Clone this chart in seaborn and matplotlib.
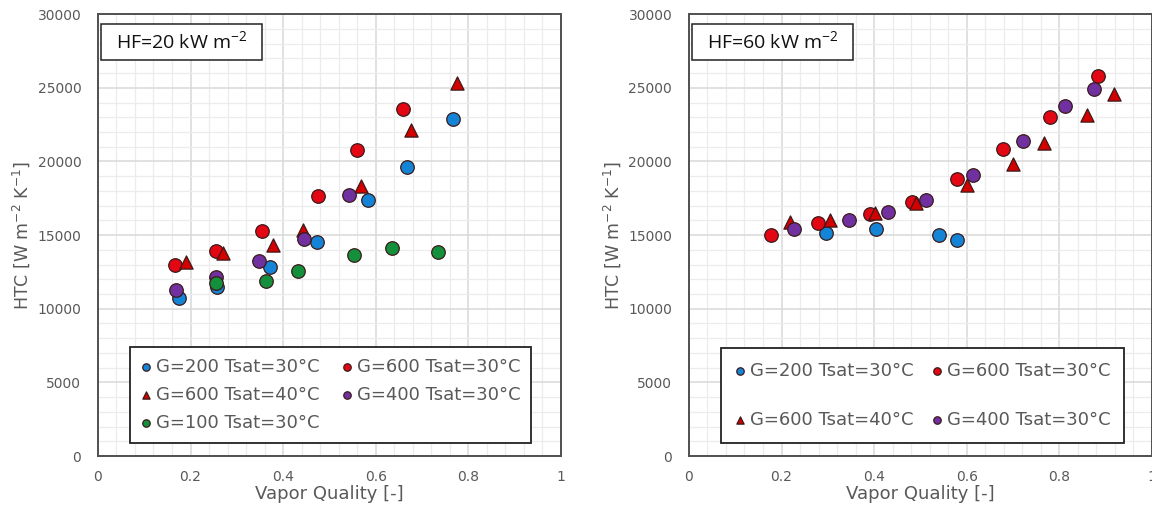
import numpy as np
import pandas as pd
import matplotlib
matplotlib.use("Agg")
import matplotlib.pyplot as plt
from matplotlib.patches import Rectangle
from matplotlib.ticker import MultipleLocator
import seaborn as sns

# ---------------- data ----------------
# HF = 20 kW m-2
hf20_g200_x = [0.176, 0.258, 0.371, 0.472, 0.584, 0.668, 0.766]
hf20_g200_y = [10750, 11500, 12800, 14550, 17400, 19650, 22850]
hf20_g600_30_x = [0.166, 0.256, 0.354, 0.476, 0.559, 0.659]
hf20_g600_30_y = [12950, 13900, 15250, 17650, 20800, 23550]
hf20_g600_40_x = [0.190, 0.271, 0.379, 0.442, 0.569, 0.675, 0.775]
hf20_g600_40_y = [13200, 13800, 14350, 15350, 18350, 22150, 25300]
hf20_g400_x = [0.168, 0.256, 0.348, 0.445, 0.543]
hf20_g400_y = [11250, 12150, 13250, 14700, 17700]
hf20_g100_x = [0.254, 0.362, 0.433, 0.554, 0.634, 0.735]
hf20_g100_y = [11750, 11900, 12550, 13650, 14150, 13850]

# HF = 60 kW m-2
hf60_g200_x = [0.297, 0.404, 0.539, 0.579]
hf60_g200_y = [15150, 15400, 15000, 14650]
hf60_g600_30_x = [0.177, 0.278, 0.392, 0.481, 0.580, 0.678, 0.780, 0.883]
hf60_g600_30_y = [15000, 15800, 16450, 17250, 18800, 20850, 23050, 25800]
hf60_g600_40_x = [0.219, 0.305, 0.402, 0.490, 0.600, 0.699, 0.767, 0.860, 0.919]
hf60_g600_40_y = [15900, 16000, 16500, 17200, 18400, 19850, 21250, 23150, 24550]
hf60_g400_x = [0.227, 0.346, 0.429, 0.512, 0.613, 0.721, 0.813, 0.875]
hf60_g400_y = [15400, 16050, 16550, 17350, 19100, 21400, 23750, 24900]

labels = {
    "g200": "G=200 Tsat=30°C",
    "g600_30": "G=600 Tsat=30°C",
    "g600_40": "G=600 Tsat=40°C",
    "g400": "G=400 Tsat=30°C",
    "g100": "G=100 Tsat=30°C",
}
panel_titles = [r"HF=20 kW m$^{\mathregular{-2}}$", r"HF=60 kW m$^{\mathregular{-2}}$"]
x_ticks = [0, 0.2, 0.4, 0.6, 0.8, 1]
x_tick_labels = ["0", "0.2", "0.4", "0.6", "0.8", "1"]
y_ticks = [0, 5000, 10000, 15000, 20000, 25000, 30000]

# ---------------- styles ----------------
colors = {"g200": "#1384d6", "g600_30": "#e30613", "g600_40": "#d40000",
          "g400": "#7030a0", "g100": "#14903c"}
markers = {"g200": "o", "g600_30": "o", "g600_40": "^", "g400": "o", "g100": "o"}
sizes = {"g200": 95, "g600_30": 95, "g600_40": 90, "g400": 95, "g100": 95}

sns.set_theme(style="white")
plt.rcParams["font.family"] = ["DejaVu Sans"]

fig = plt.figure(figsize=(11.52, 5.05), dpi=100)
ax1 = fig.add_axes([0.085, 0.097, 0.402, 0.875])
ax2 = fig.add_axes([0.598, 0.097, 0.402, 0.875])

panels = [
    (ax1, [("g200", hf20_g200_x, hf20_g200_y), ("g600_30", hf20_g600_30_x, hf20_g600_30_y),
           ("g600_40", hf20_g600_40_x, hf20_g600_40_y), ("g400", hf20_g400_x, hf20_g400_y),
           ("g100", hf20_g100_x, hf20_g100_y)],
     ["g200", "g600_40", "g100", "g600_30", "g400"], 0.55, 0.6, 1.2),
    (ax2, [("g200", hf60_g200_x, hf60_g200_y), ("g600_30", hf60_g600_30_x, hf60_g600_30_y),
           ("g600_40", hf60_g600_40_x, hf60_g600_40_y), ("g400", hf60_g400_x, hf60_g400_y)],
     ["g200", "g600_40", "g600_30", "g400"], 1.75, 0.75, 1.0),
]

for i, (ax, series, order, lspace, bpad, cspace) in enumerate(panels):
    for key, xs, ys in series:
        df = pd.DataFrame({"x": xs, "y": ys})
        sns.scatterplot(data=df, x="x", y="y", ax=ax, color=colors[key],
                        marker=markers[key], s=sizes[key], edgecolor="#3a1a1a",
                        linewidth=0.9, label=labels[key], zorder=3)
    h, l = ax.get_legend_handles_labels()
    hmap = dict(zip(l, h))
    ordered = [hmap[labels[k]] for k in order]
    leg = ax.legend(ordered, [labels[k] for k in order], ncol=2, loc="lower left",
                    bbox_to_anchor=(0.069, 0.03), borderaxespad=0, fontsize=13,
                    markerscale=0.55, handlelength=0.6, handletextpad=0.25,
                    columnspacing=cspace, labelspacing=lspace, borderpad=bpad,
                    frameon=True, fancybox=False, framealpha=1, edgecolor="#222222")
    leg.get_frame().set_linewidth(1.3)
    for t in leg.get_texts():
        t.set_color("#595959")

    ax.set_xlim(0, 1)
    ax.set_ylim(0, 30000)
    ax.set_xticks(x_ticks)
    ax.set_xticklabels(x_tick_labels)
    ax.set_yticks(y_ticks)
    ax.xaxis.set_minor_locator(MultipleLocator(0.04))
    ax.yaxis.set_minor_locator(MultipleLocator(1000))
    ax.grid(which="major", color="#d9d9d9", linewidth=1.1, zorder=0)
    ax.grid(which="minor", color="#ececec", linewidth=0.9, zorder=0)
    ax.set_axisbelow(True)
    ax.tick_params(axis="both", which="both", length=0, labelsize=10,
                   labelcolor="#595959")
    ax.tick_params(axis="x", pad=10)
    ax.tick_params(axis="y", pad=12)
    for sp in ax.spines.values():
        sp.set_color("#505050")
        sp.set_linewidth(1.4)
        sp.set_visible(True)
    ax.set_xlabel("Vapor Quality [-]", fontsize=13, color="#595959", labelpad=1)
    ax.set_ylabel(r"HTC [W m$^{\mathregular{-2}}$ K$^{\mathregular{-1}}$]",
                  fontsize=12.5, color="#595959", labelpad=4)

    # annotation box
    ax.add_patch(Rectangle((0.0075, 0.897), 0.347, 0.081, transform=ax.transAxes,
                           facecolor="white", edgecolor="#222222", linewidth=1.1,
                           zorder=4))
    ax.text(0.18, 0.937, panel_titles[i], transform=ax.transAxes, ha="center",
            va="center", fontsize=14, color="#111111", family="Open Sans", zorder=5)

fig.savefig("out.png", dpi=100)
